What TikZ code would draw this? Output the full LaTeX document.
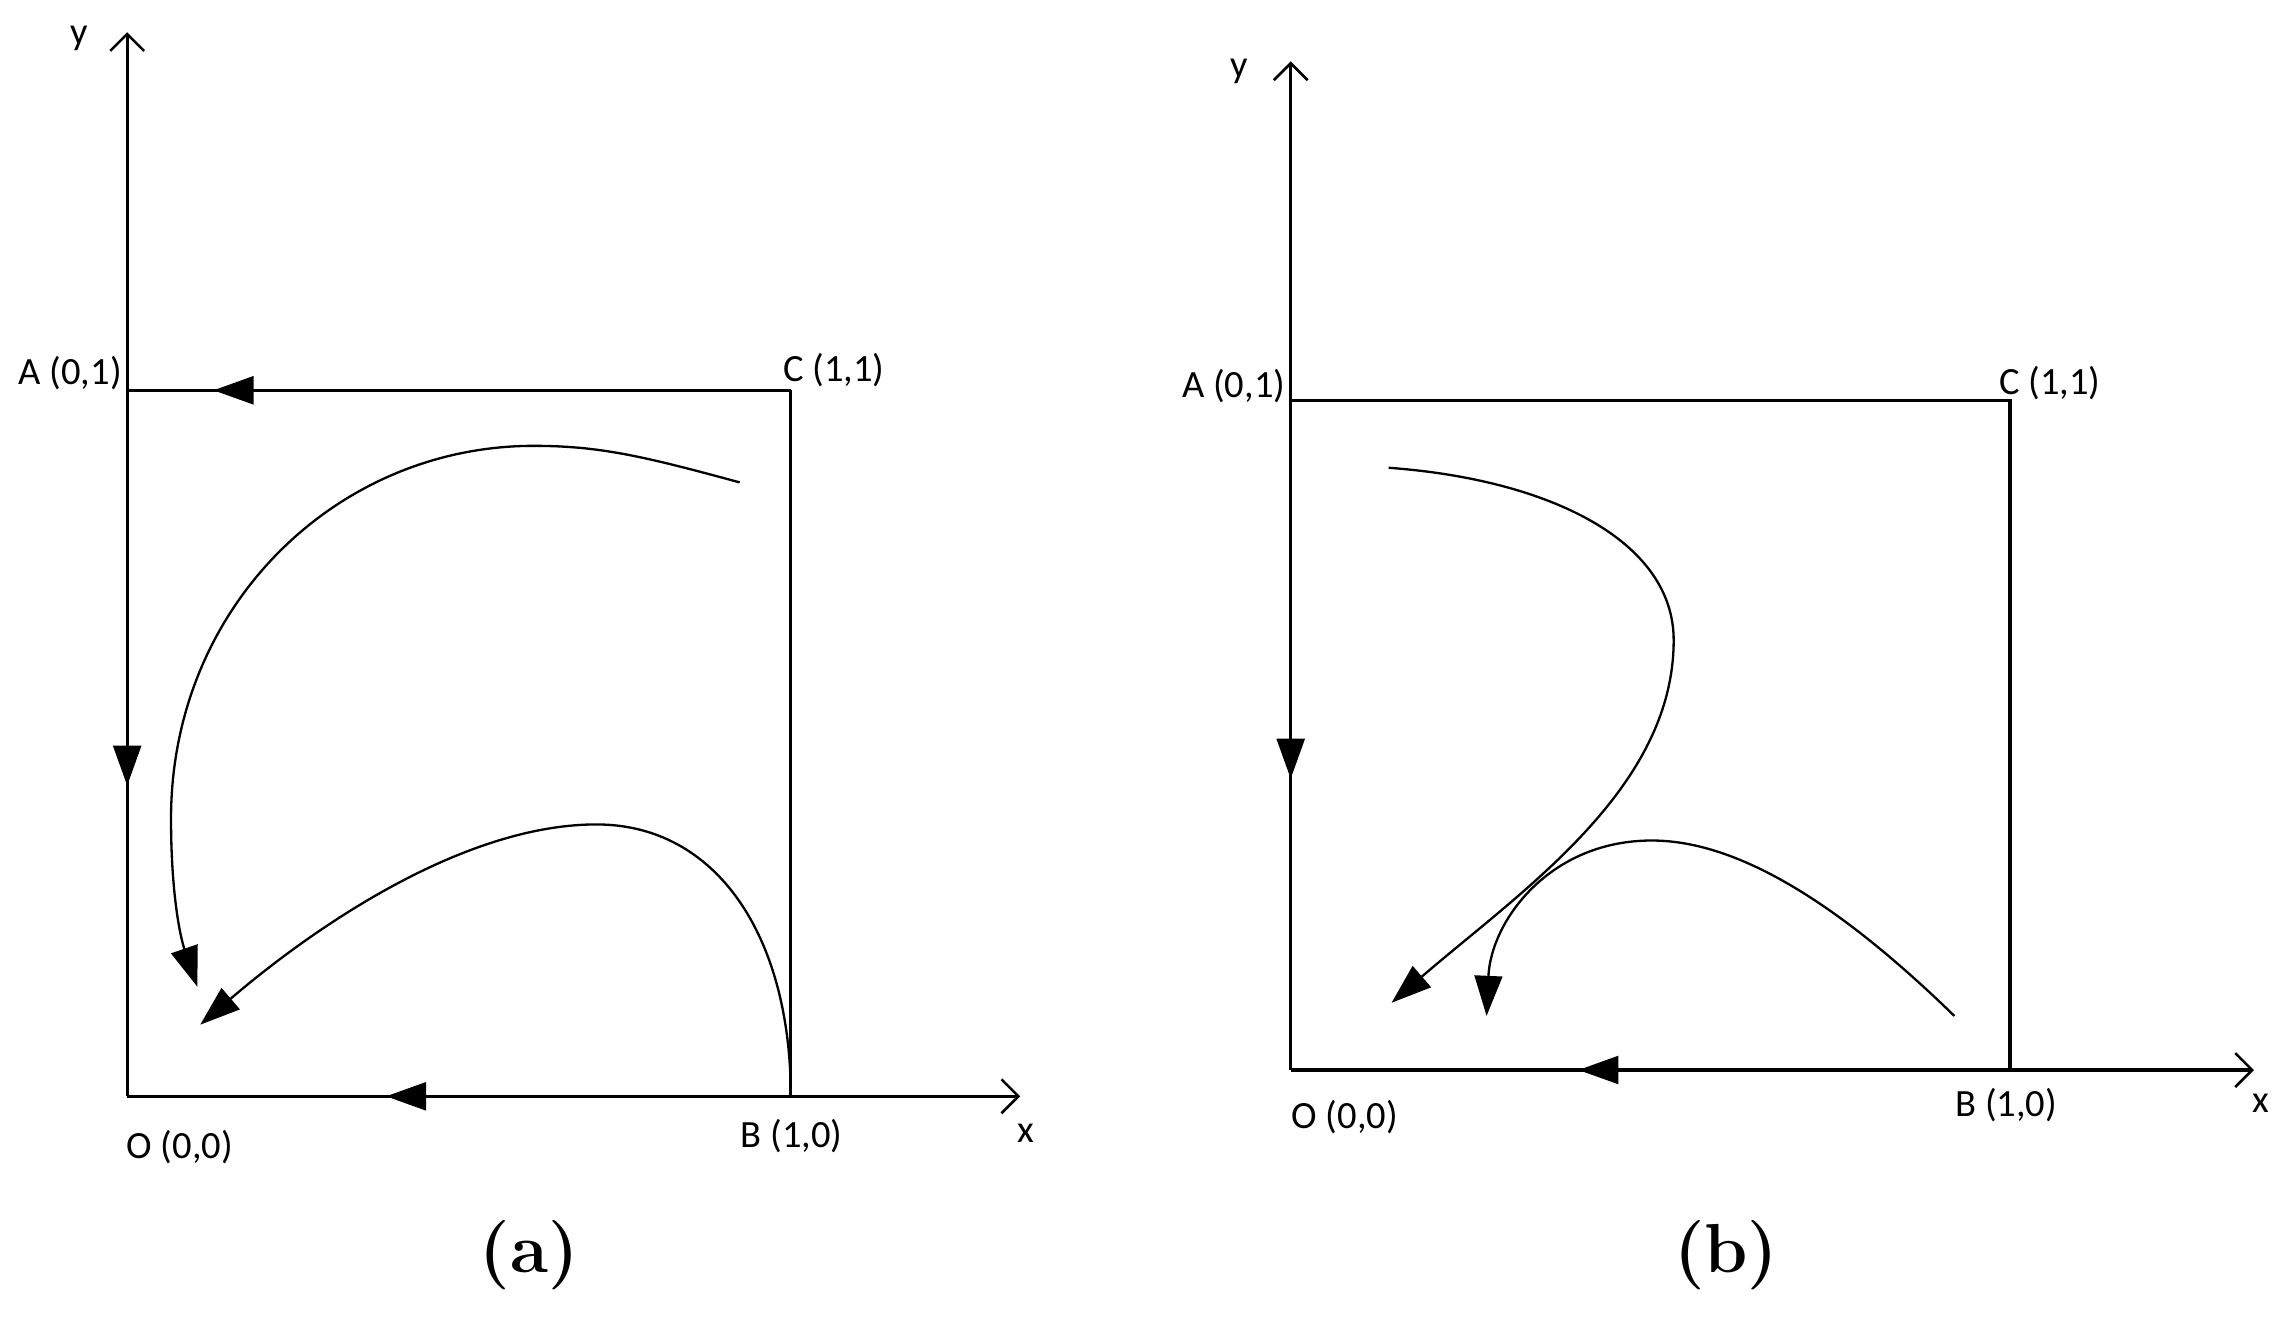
\documentclass[tikz,border=0pt]{standalone}
\usepackage{fontspec}
\newfontfamily\lblfont{Carlito}
\usetikzlibrary{arrows.meta,decorations.markings}
\begin{document}
\begin{tikzpicture}[x=0.01cm,y=-0.01cm,
  frame/.style={line width=0.65pt},
  axis/.style={line width=0.65pt,-{Straight Barb[length=3.3pt,width=6.6pt,line width=0.5pt]}},
  curv/.style={line width=0.45pt,-{Triangle[length=7.8pt,width=5.4pt]}},
  midarr/.style={postaction={decorate},decoration={markings,mark=at position #1 with {\arrow{Triangle[length=7.8pt,width=5.4pt]}}}},
  lbl/.style={font=\lblfont\fontsize{7.5}{9}\selectfont,inner sep=0pt},
  captxt/.style={font=\fontsize{13.5}{16}\selectfont\bfseries,inner sep=0pt}]
\useasboundingbox (0,0) rectangle (1568,905);

% ---------- panel (a) ----------
\coordinate (Oa) at (87,750);
\coordinate (Aa) at (87,267);
\coordinate (Ca) at (541,267);
\coordinate (Ba) at (541,750);
\coordinate (Ya) at (87,22);
\coordinate (Xa) at (698,750);
\coordinate (c1sa) at (506,330);
\coordinate (c1ea) at (135,675);
\coordinate (c2ea) at (137,701);

\draw[axis] (Oa) -- (Ya);
\draw[axis] (Oa) -- (Xa);
\draw[frame,midarr=0.87] (Ca) -- (Aa);
\draw[frame] (Ca) -- (Ba);
\draw[frame,midarr=0.56] (Aa) -- (Oa);
\draw[frame,midarr=0.61] (Ba) -- (Oa);

\draw[curv] (c1sa) .. controls (440,312) and (410,305) .. (365,305)
  .. controls (230,305) and (117,415) .. (117,560)
  .. controls (117,610) and (123,640) .. (c1ea);
\draw[curv] (Ba) .. controls (541,640) and (490,564) .. (408,564)
  .. controls (320,564) and (220,630) .. (c2ea);

\node[lbl] (ya) at (54,26) {y};
\node[lbl,anchor=east] (la) at (84,255) {A (0,1)};
\node[lbl,anchor=west] (lc) at (535,253) {C (1,1)};
\node[lbl,anchor=west] (lo) at (86,785) {O (0,0)};
\node[lbl,anchor=west] (lb) at (506,777) {B (1,0)};
\node[lbl] (xa) at (702,775) {x};
\node[captxt] (capa) at (362,859) {(a)};

% ---------- panel (b) ----------
\coordinate (Ob) at (883,732);
\coordinate (Ab) at (883,274);
\coordinate (Cb) at (1375,274);
\coordinate (Bb) at (1375,732);
\coordinate (Yb) at (883,42);
\coordinate (Xb) at (1542,732);
\coordinate (c1sb) at (950,320);
\coordinate (c1eb) at (952,686);
\coordinate (c2sb) at (1337,695);
\coordinate (c2eb) at (1017,695);

\draw[axis] (Ob) -- (Yb);
\draw[axis] (Ob) -- (Xb);
\draw[frame] (Ab) -- (Cb) -- (Bb);
\draw[frame,midarr=0.565] (Ab) -- (Ob);
\draw[frame,midarr=0.6] (Bb) -- (Ob);

\draw[curv] (c1sb) .. controls (1060,328) and (1145,370) .. (1145,438)
  .. controls (1145,540) and (1040,610) .. (c1eb);
\draw[curv] (c2sb) .. controls (1260,620) and (1190,575) .. (1130,575)
  .. controls (1060,575) and (1020,630) .. (c2eb);

\node[lbl] (yb) at (848,49) {y};
\node[lbl,anchor=east] (lab) at (880,264) {A (0,1)};
\node[lbl,anchor=west] (lcb) at (1367,262) {C (1,1)};
\node[lbl,anchor=west] (lob) at (883,764) {O (0,0)};
\node[lbl,anchor=west] (lbb) at (1337,756) {B (1,0)};
\node[lbl] (xb) at (1547,755) {x};
\node[captxt] (capb) at (1181,859) {(b)};
\end{tikzpicture}
\end{document}
